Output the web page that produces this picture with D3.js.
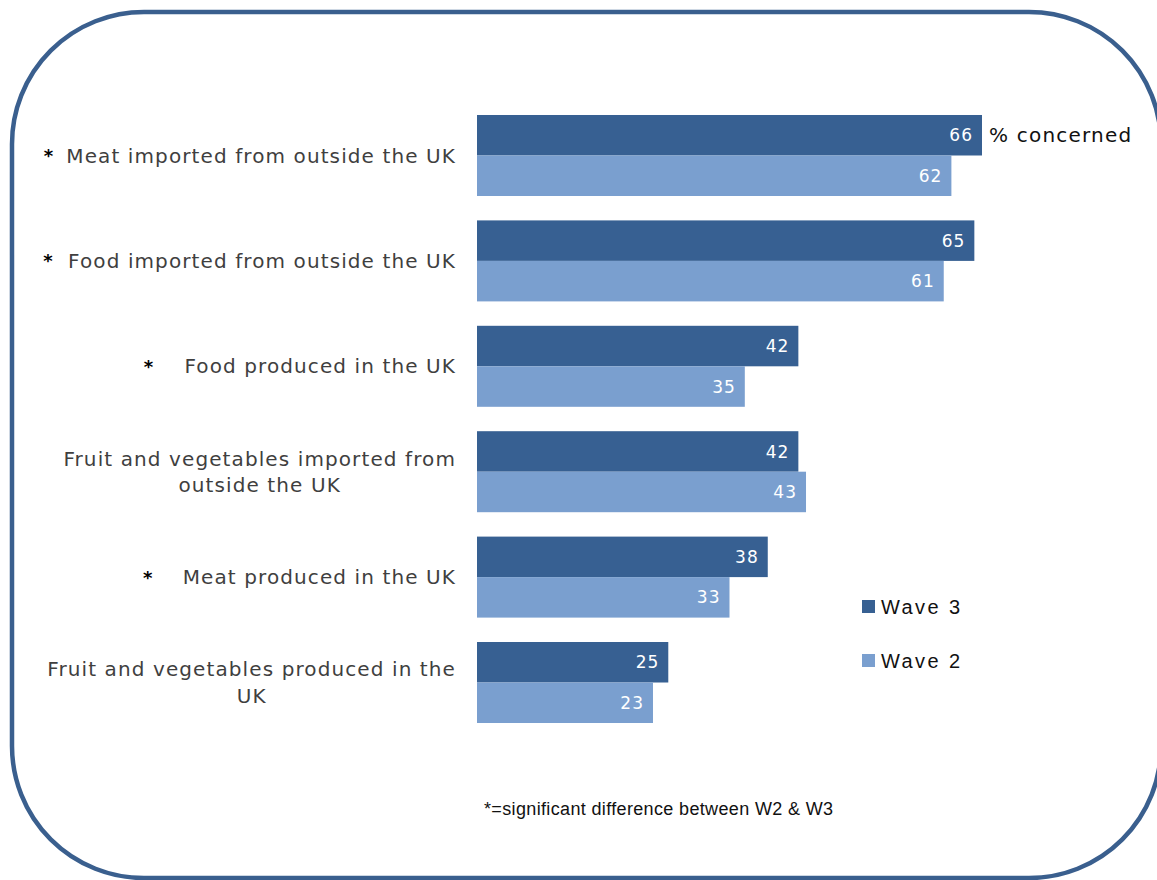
<!DOCTYPE html>
<html>
<head>
<meta charset="utf-8">
<script src="https://cdn.jsdelivr.net/npm/d3@7"></script>
<style>
  html, body { margin: 0; padding: 0; background: #ffffff; }
  svg { display: block; }
</style>
</head>
<body>
<svg id="chart" width="1157" height="880"></svg>
<script>
// Concern about food sources, waves 3 and 2 (% concerned)
const categories = [
  ["Meat imported from outside the UK"],
  ["Food imported from outside the UK"],
  ["Food produced in the UK"],
  ["Fruit and vegetables imported from", "outside the UK"],
  ["Meat produced in the UK"],
  ["Fruit and vegetables produced in the", "UK"]
];
const significant = [true, true, true, false, true, false];
const seriesNames = ["Wave 3", "Wave 2"];
const wave3 = [66, 65, 42, 42, 38, 25];
const wave2 = [62, 61, 35, 43, 33, 23];
const unitLabel = "% concerned";
const footnote = "*=significant difference between W2 & W3";

const colors = { "Wave 3": "#376092", "Wave 2": "#7a9fcf" };
const labelFont = "'DejaVu Sans', Verdana, sans-serif";
const arialFont = "'Liberation Sans', Arial, sans-serif";

const svg = d3.select("#chart");

// Rounded frame
svg.append("rect")
  .attr("x", 12).attr("y", 12)
  .attr("width", 1149).attr("height", 866)
  .attr("rx", 132).attr("ry", 132)
  .attr("fill", "none")
  .attr("stroke", "#3a5f8e")
  .attr("stroke-width", 4.5);

const idx = d3.range(categories.length);

const y = d3.scaleBand()
  .domain(idx)
  .range([102.8, 735.2])
  .paddingInner(0.2315)
  .paddingOuter(0.1157);

const ySub = d3.scaleBand()
  .domain(seriesNames)
  .range([0, y.bandwidth()]);

const x = d3.scaleLinear()
  .domain([0, 66])
  .range([477, 982]);

const rows = idx.map(i => ({
  i,
  values: [
    { name: "Wave 3", value: wave3[i] },
    { name: "Wave 2", value: wave2[i] }
  ]
}));

const groups = svg.append("g").selectAll("g")
  .data(rows)
  .join("g")
  .attr("transform", d => `translate(0,${y(d.i)})`);

groups.selectAll("rect")
  .data(d => d.values)
  .join("rect")
  .attr("x", x(0))
  .attr("y", d => ySub(d.name))
  .attr("width", d => x(d.value) - x(0))
  .attr("height", ySub.bandwidth())
  .attr("fill", d => colors[d.name]);

groups.selectAll("text.val")
  .data(d => d.values)
  .join("text")
  .attr("class", "val")
  .attr("x", d => x(d.value) - 9)
  .attr("y", d => ySub(d.name) + ySub.bandwidth() / 2)
  .attr("dy", "0.36em")
  .attr("text-anchor", "end")
  .attr("fill", "#ffffff")
  .style("font-family", labelFont)
  .style("font-size", "17px")
  .style("letter-spacing", "1px")
  .text(d => d.value);

// Unit label next to the first bar
svg.append("text")
  .attr("x", x(wave3[0]) + 7)
  .attr("y", y(0) + ySub("Wave 3") + ySub.bandwidth() / 2)
  .attr("dy", "0.36em")
  .attr("fill", "#111111")
  .style("font-family", labelFont)
  .style("font-size", "20px")
  .style("letter-spacing", "1.2px")
  .text(unitLabel);

// Category labels (right edge at 455, extra lines centred under the first)
const labelRight = 456;
const lineH = 26.5;
const starGap = [24, 26, 42, 0, 41, 0];
function catText(sel) {
  return sel.attr("fill", "#3f3f3f")
    .style("font-family", labelFont)
    .style("font-size", "20px")
    .style("letter-spacing", "1.1px");
}
idx.forEach(i => {
  const lines = categories[i];
  const cy = y(i) + y.bandwidth() / 2;
  const top = cy - (lines.length - 1) * lineH / 2;
  const first = svg.append("text")
    .attr("x", labelRight)
    .attr("y", top)
    .attr("dy", "0.36em")
    .attr("text-anchor", "end")
    .call(catText)
    .text(lines[0]);
  const w = first.node().getComputedTextLength();
  const centre = labelRight - w / 2;
  lines.slice(1).forEach((ln, k) => {
    svg.append("text")
      .attr("x", centre)
      .attr("y", top + (k + 1) * lineH)
      .attr("dy", "0.36em")
      .attr("text-anchor", "middle")
      .call(catText)
      .text(ln);
  });
  if (significant[i]) {
    svg.append("text")
      .attr("x", labelRight - w - starGap[i] + 6)
      .attr("y", cy)
      .attr("dy", "0.36em")
      .attr("text-anchor", "middle")
      .attr("fill", "#000000")
      .style("font-family", labelFont)
      .style("font-size", "18px")
      .style("font-weight", "bold")
      .text("*");
  }
});

// Legend
const legend = svg.append("g").selectAll("g")
  .data(seriesNames)
  .join("g")
  .attr("transform", (d, k) => `translate(862,${600 + k * 54})`);
legend.append("rect")
  .attr("width", 13).attr("height", 13)
  .attr("fill", d => colors[d]);
legend.append("text")
  .attr("x", 19).attr("y", 6.5)
  .attr("dy", "0.36em")
  .attr("fill", "#111111")
  .style("font-family", arialFont)
  .style("font-size", "20px")
  .style("letter-spacing", "2.4px")
  .text(d => d);

// Footnote
svg.append("text")
  .attr("x", 484).attr("y", 815)
  .attr("fill", "#111111")
  .style("font-family", arialFont)
  .style("font-size", "18px")
  .style("letter-spacing", "0.35px")
  .text(footnote);
</script>
</body>
</html>
